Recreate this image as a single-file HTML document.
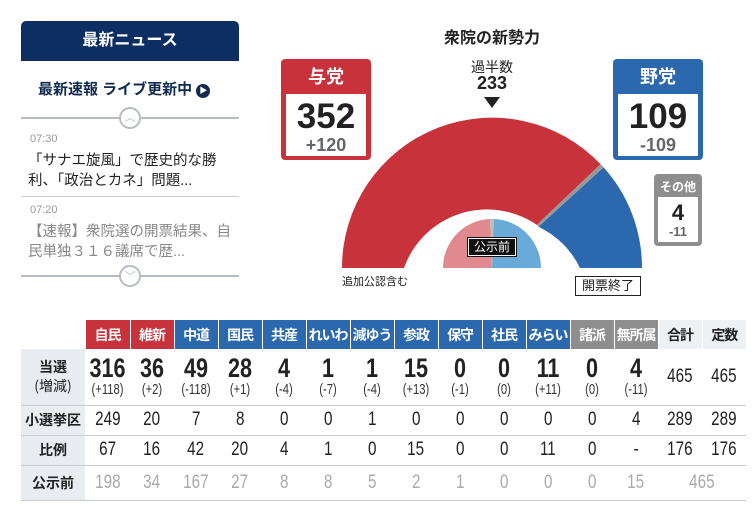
<!DOCTYPE html>
<html><head><meta charset="utf-8"><style>
*{margin:0;padding:0;box-sizing:border-box}
body{width:754px;height:526px;background:#fff;position:relative;overflow:hidden;font-family:"Liberation Sans","Noto Sans CJK JP",sans-serif;color:#222}
.a{position:absolute}
.c{text-align:center}
table{position:absolute;left:21px;top:320px;border-collapse:collapse;font-family:"Liberation Sans Narrow","Liberation Sans","Noto Sans CJK JP",sans-serif}
td{text-align:center;padding:0;border-bottom:1px solid #c8ccd0}
tr.h td{height:29px;color:#fff;font-weight:bold;font-size:14px;border-bottom:none;border-left:1px solid #fff;font-family:"Noto Sans CJK JP",sans-serif;letter-spacing:-1px}
td.l{width:64px;background:#e9edf2;font-weight:bold;font-size:14px;font-family:"Noto Sans CJK JP",sans-serif;color:#222}
td.n{width:44px}
.r{background:#c8323a}.b{background:#2b68ad}.g{background:#8e8e8e}.w{background:#eef1f4;color:#222!important}
.big{font-size:27px;font-weight:bold;line-height:25px;transform:scaleX(.8);display:block}
.sm{font-size:15px;color:#333;display:block;transform:scaleX(.75)}
tr.m td.n{font-size:19px;transform:none}
tr.m td.n span{display:inline-block;transform:scaleX(.8)}
tr.p td.n{color:#aaa}
</style></head><body>
<!-- left panel -->
<div class="a c" style="left:21px;top:21px;width:218px;height:40px;background:#0c2e63;border-radius:5px 5px 0 0;color:#fff;font-weight:bold;font-size:16px;line-height:40px">最新ニュース</div>
<div class="a" style="left:38px;top:78px;font-weight:bold;font-size:15px;color:#112a4f">最新速報 ライブ更新中 <span style="display:inline-block;width:14px;height:14px;border-radius:50%;background:#112a4f;color:#fff;font-size:8px;line-height:14px;text-align:center;vertical-align:1px">▶</span></div>
<div class="a" style="left:21px;top:117px;width:218px;height:2px;background:#b8bcc4"></div>
<div class="a c" style="left:119px;top:107px;width:22px;height:22px;border:2px solid #b8bcc4;border-radius:50%;background:#fff;color:#b8bcc4;font-size:11px;line-height:18px">︿</div>
<div class="a" style="left:30px;top:133px;font-size:11px;color:#999">07:30</div>
<div class="a" style="left:28px;top:151px;width:196px;font-size:14.5px;line-height:20px;color:#222">「サナエ旋風」で歴史的な勝利、「政治とカネ」問題...</div>
<div class="a" style="left:21px;top:196px;width:218px;height:1px;background:#ccc"></div>
<div class="a" style="left:30px;top:204px;font-size:11px;color:#999">07:20</div>
<div class="a" style="left:28px;top:222px;width:204px;font-size:14.5px;line-height:20px;color:#888">【速報】衆院選の開票結果、自民単独３１６議席で歴...</div>
<div class="a" style="left:21px;top:275px;width:218px;height:2px;background:#b8bcc4"></div>
<div class="a c" style="left:119px;top:265px;width:22px;height:22px;border:2px solid #b8bcc4;border-radius:50%;background:#fff;color:#b8bcc4;font-size:11px;line-height:20px">﹀</div>
<!-- chart -->
<div class="a c" style="left:392px;top:24px;width:200px;font-weight:bold;font-size:16px">衆院の新勢力</div>
<svg class="a" style="left:0;top:0" width="754" height="300">
<path d="M342,268 A150,150 0 0 1 600.6,164.2 L536.8,224.9 A88,88 0 0 0 404,268Z" fill="#c8323a"/>
<path d="M600.6,164.2 A150,150 0 0 1 603.6,167.4 L538.5,226.7 A88,88 0 0 0 536.8,224.9Z" fill="#999"/>
<path d="M603.6,167.4 A150,150 0 0 1 642,268 L580,268 A88,88 0 0 0 538.5,226.7Z" fill="#2b68ad"/>
<path d="M443,268 A49,49 0 0 1 490,219 L492,268Z" fill="#e0898e"/>
<path d="M490,219 A49,49 0 0 1 494,219 L492,268Z" fill="#bbb"/>
<path d="M494,219 A49,49 0 0 1 541,268 L492,268Z" fill="#6aaad8"/>
<path d="M484,97 L500,97 L492,108Z" fill="#222"/>
</svg>
<div class="a c" style="left:468px;top:238px;width:48px;height:18px;background:#111;border:1px solid #fff;outline:1px solid #111;color:#fff;font-size:12px;line-height:16px">公示前</div>
<div class="a c" style="left:452px;top:57px;width:80px;font-size:14px">過半数</div>
<div class="a c" style="left:452px;top:73px;width:80px;font-size:18px;font-weight:bold">233</div>
<div class="a" style="left:342px;top:273px;font-size:11px">追加公認含む</div>
<div class="a c" style="left:575px;top:276px;width:66px;height:20px;border:1px solid #222;font-size:13px;line-height:18px">開票終了</div>
<!-- boxes -->
<div class="a" style="left:281px;top:59px;width:90px;height:101px;background:#c8323a;border-radius:4px"></div>
<div class="a c" style="left:281px;top:63px;width:90px;color:#fff;font-weight:bold;font-size:18px">与党</div>
<div class="a c" style="left:286px;top:94px;width:80px;height:62px;background:#fff"><div style="font-size:35px;font-weight:bold;line-height:38px;margin-top:4px">352</div><div style="font-size:18px;font-weight:bold;color:#666;line-height:18px">+120</div></div>
<div class="a" style="left:613px;top:59px;width:90px;height:101px;background:#2b68ad;border-radius:4px"></div>
<div class="a c" style="left:613px;top:63px;width:90px;color:#fff;font-weight:bold;font-size:18px">野党</div>
<div class="a c" style="left:618px;top:94px;width:80px;height:62px;background:#fff"><div style="font-size:35px;font-weight:bold;line-height:38px;margin-top:4px">109</div><div style="font-size:18px;font-weight:bold;color:#666;line-height:18px">-109</div></div>
<div class="a" style="left:654px;top:174px;width:48px;height:72px;background:#8e8e8e;border-radius:4px"></div>
<div class="a c" style="left:654px;top:178px;width:48px;color:#fff;font-weight:bold;font-size:12px">その他</div>
<div class="a c" style="left:658px;top:197px;width:40px;height:45px;background:#fff"><div style="font-size:22px;font-weight:bold;line-height:24px;margin-top:4px">4</div><div style="font-size:13px;font-weight:bold;color:#666;line-height:14px">-11</div></div>
<!-- table -->
<table>
<tr class="h"><td style="width:64px;background:#fff;border-left:none"></td><td class="r">自民</td><td class="r">維新</td><td class="b">中道</td><td class="b">国民</td><td class="b">共産</td><td class="b">れいわ</td><td class="b">減ゆう</td><td class="b">参政</td><td class="b">保守</td><td class="b">社民</td><td class="b">みらい</td><td class="g">諸派</td><td class="g">無所属</td><td class="w">合計</td><td class="w">定数</td></tr>
<tr style="height:56px"><td class="l" style="line-height:19px">当選<br><span style="font-weight:normal">(増減)</span></td>
<td class="n"><b class="big">316</b><span class="sm">(+118)</span></td><td class="n"><b class="big">36</b><span class="sm">(+2)</span></td><td class="n"><b class="big">49</b><span class="sm">(-118)</span></td><td class="n"><b class="big">28</b><span class="sm">(+1)</span></td><td class="n"><b class="big">4</b><span class="sm">(-4)</span></td><td class="n"><b class="big">1</b><span class="sm">(-7)</span></td><td class="n"><b class="big">1</b><span class="sm">(-4)</span></td><td class="n"><b class="big">15</b><span class="sm">(+13)</span></td><td class="n"><b class="big">0</b><span class="sm">(-1)</span></td><td class="n"><b class="big">0</b><span class="sm">(0)</span></td><td class="n"><b class="big">11</b><span class="sm">(+11)</span></td><td class="n"><b class="big">0</b><span class="sm">(0)</span></td><td class="n"><b class="big">4</b><span class="sm">(-11)</span></td><td class="n" style="font-size:19px"><span style="display:inline-block;transform:scaleX(.8)">465</span></td><td class="n" style="font-size:19px"><span style="display:inline-block;transform:scaleX(.8)">465</span></td></tr>
<tr class="m" style="height:30px"><td class="l">小選挙区</td><td class="n"><span>249</span></td><td class="n"><span>20</span></td><td class="n"><span>7</span></td><td class="n"><span>8</span></td><td class="n"><span>0</span></td><td class="n"><span>0</span></td><td class="n"><span>1</span></td><td class="n"><span>0</span></td><td class="n"><span>0</span></td><td class="n"><span>0</span></td><td class="n"><span>0</span></td><td class="n"><span>0</span></td><td class="n"><span>4</span></td><td class="n"><span>289</span></td><td class="n"><span>289</span></td></tr>
<tr class="m" style="height:30px"><td class="l">比例</td><td class="n"><span>67</span></td><td class="n"><span>16</span></td><td class="n"><span>42</span></td><td class="n"><span>20</span></td><td class="n"><span>4</span></td><td class="n"><span>1</span></td><td class="n"><span>0</span></td><td class="n"><span>15</span></td><td class="n"><span>0</span></td><td class="n"><span>0</span></td><td class="n"><span>11</span></td><td class="n"><span>0</span></td><td class="n"><span>-</span></td><td class="n"><span>176</span></td><td class="n"><span>176</span></td></tr>
<tr class="m p" style="height:35px"><td class="l">公示前</td><td class="n"><span>198</span></td><td class="n"><span>34</span></td><td class="n"><span>167</span></td><td class="n"><span>27</span></td><td class="n"><span>8</span></td><td class="n"><span>8</span></td><td class="n"><span>5</span></td><td class="n"><span>2</span></td><td class="n"><span>1</span></td><td class="n"><span>0</span></td><td class="n"><span>0</span></td><td class="n"><span>0</span></td><td class="n"><span>15</span></td><td class="n" colspan="2" style="width:88px"><span>465</span></td></tr>
</table>
</body></html>
